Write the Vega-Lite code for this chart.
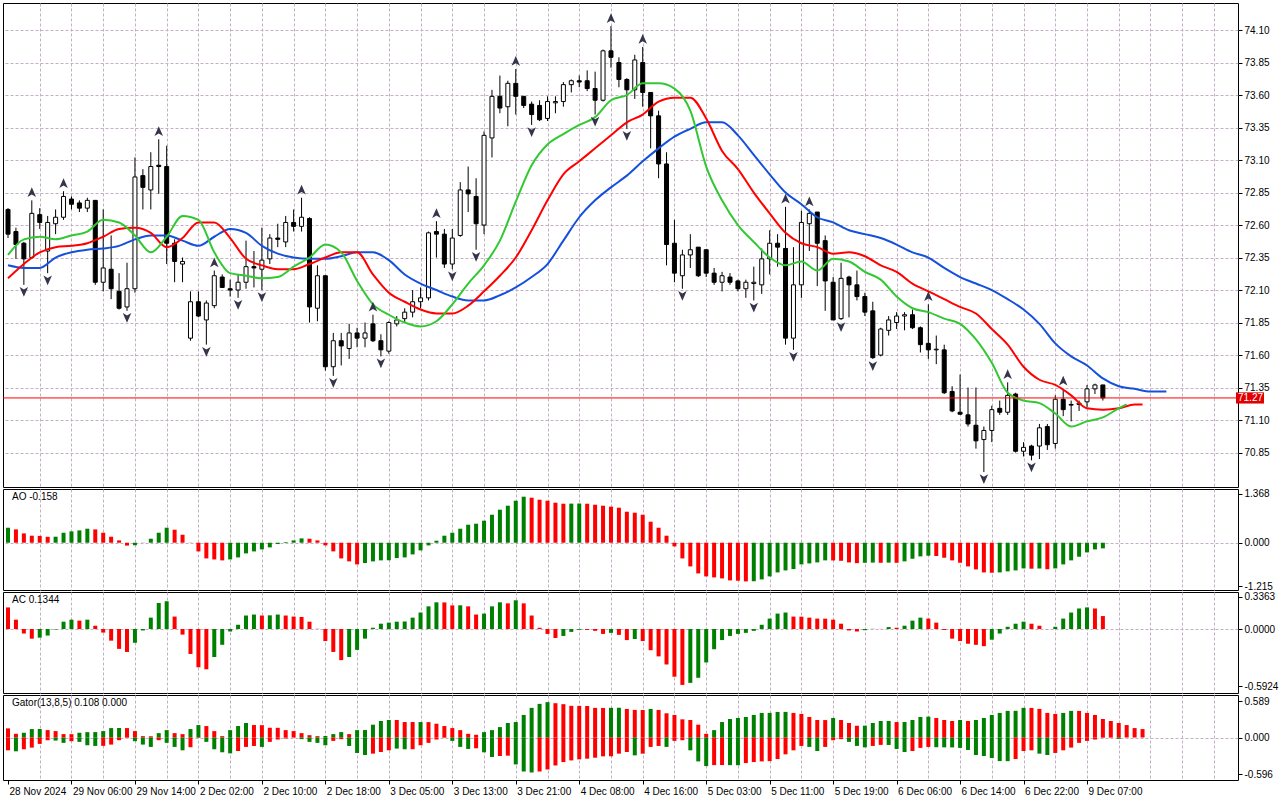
{
  "$schema": "https://vega.github.io/schema/vega-lite/v6.json",
  "background": "white",
  "padding": {"left": 2, "top": 2, "right": 0, "bottom": 0},
  "spacing": 2,
  "bounds": "flush",
  "config": {
    "font": "Liberation Sans",
    "view": {"stroke": "black", "strokeWidth": 1, "fill": "white"},
    "axis": {
      "labelFont": "Liberation Sans", "labelFontSize": 10, "labelColor": "black",
      "tickColor": "black", "tickWidth": 1,
      "gridColor": "#c4b0c4", "gridDash": [3, 2], "gridWidth": 1,
      "labelFlush": false, "labelOverlap": false, "domain": false
    }
  },
  "datasets": {
    "bars": [
      {"k":0,"o":72.72,"h":72.73,"l":72.50,"c":72.53,"ao":0.419,"aod":"u","ac":0.224,"acd":"d"},
      {"k":1,"o":72.55,"h":72.58,"l":72.34,"c":72.45,"ao":0.372,"aod":"d","ac":0.097,"acd":"d"},
      {"k":2,"o":72.46,"h":72.47,"l":72.14,"c":72.34,"ao":0.261,"aod":"d","ac":-0.047,"acd":"d"},
      {"k":3,"o":72.35,"h":72.79,"l":72.34,"c":72.69,"ao":0.196,"aod":"d","ac":-0.1,"acd":"d"},
      {"k":4,"o":72.68,"h":72.73,"l":72.57,"c":72.62,"ao":0.19,"aod":"d","ac":-0.09,"acd":"u"},
      {"k":5,"o":72.40,"h":72.67,"l":72.23,"c":72.62,"ao":0.165,"aod":"d","ac":-0.068,"acd":"u"},
      {"k":6,"o":72.61,"h":72.72,"l":72.53,"c":72.66,"ao":0.168,"aod":"u","ac":-0.005,"acd":"u"},
      {"k":7,"o":72.66,"h":72.86,"l":72.64,"c":72.82,"ao":0.279,"aod":"u","ac":0.076,"acd":"u"},
      {"k":8,"o":72.80,"h":72.82,"l":72.72,"c":72.76,"ao":0.317,"aod":"u","ac":0.097,"acd":"u"},
      {"k":9,"o":72.77,"h":72.79,"l":72.70,"c":72.73,"ao":0.344,"aod":"u","ac":0.087,"acd":"d"},
      {"k":10,"o":72.73,"h":72.81,"l":72.70,"c":72.79,"ao":0.391,"aod":"u","ac":0.097,"acd":"u"},
      {"k":11,"o":72.79,"h":72.79,"l":72.14,"c":72.16,"ao":0.372,"aod":"d","ac":0.034,"acd":"d"},
      {"k":12,"o":72.16,"h":72.72,"l":72.09,"c":72.27,"ao":0.279,"aod":"d","ac":-0.037,"acd":"d"},
      {"k":13,"o":72.26,"h":72.52,"l":72.03,"c":72.11,"ao":0.168,"aod":"d","ac":-0.121,"acd":"d"},
      {"k":14,"o":72.09,"h":72.23,"l":71.95,"c":71.96,"ao":0.065,"aod":"d","ac":-0.206,"acd":"d"},
      {"k":15,"o":71.97,"h":72.31,"l":71.94,"c":72.11,"ao":-0.08,"aod":"d","ac":-0.238,"acd":"d"},
      {"k":16,"o":72.11,"h":73.12,"l":72.08,"c":72.97,"ao":-0.07,"aod":"u","ac":-0.143,"acd":"u"},
      {"k":17,"o":72.98,"h":73.03,"l":72.72,"c":72.89,"ao":0.005,"aod":"u","ac":-0.015,"acd":"u"},
      {"k":18,"o":72.87,"h":73.16,"l":72.72,"c":73.05,"ao":0.112,"aod":"u","ac":0.118,"acd":"u"},
      {"k":19,"o":73.06,"h":73.26,"l":72.84,"c":73.05,"ao":0.279,"aod":"u","ac":0.27,"acd":"u"},
      {"k":20,"o":73.05,"h":73.21,"l":72.30,"c":72.46,"ao":0.419,"aod":"u","ac":0.288,"acd":"u"},
      {"k":21,"o":72.46,"h":72.49,"l":72.16,"c":72.32,"ao":0.363,"aod":"d","ac":0.129,"acd":"d"},
      {"k":22,"o":72.30,"h":72.35,"l":72.16,"c":72.32,"ao":0.223,"aod":"d","ac":-0.058,"acd":"d"},
      {"k":23,"o":71.73,"h":72.09,"l":71.71,"c":72.01,"ao":0.005,"aod":"d","ac":-0.259,"acd":"d"},
      {"k":24,"o":72.01,"h":72.09,"l":71.89,"c":71.90,"ao":-0.242,"aod":"d","ac":-0.397,"acd":"d"},
      {"k":25,"o":71.87,"h":72.02,"l":71.68,"c":72.00,"ao":-0.438,"aod":"d","ac":-0.418,"acd":"d"},
      {"k":26,"o":71.98,"h":72.25,"l":71.96,"c":72.21,"ao":-0.466,"aod":"d","ac":-0.291,"acd":"u"},
      {"k":27,"o":72.20,"h":72.22,"l":72.12,"c":72.12,"ao":-0.493,"aod":"d","ac":-0.164,"acd":"u"},
      {"k":28,"o":72.11,"h":72.18,"l":72.05,"c":72.10,"ao":-0.466,"aod":"u","ac":-0.026,"acd":"u"},
      {"k":29,"o":72.10,"h":72.22,"l":72.04,"c":72.16,"ao":-0.41,"aod":"u","ac":0.044,"acd":"u"},
      {"k":30,"o":72.16,"h":72.48,"l":72.11,"c":72.28,"ao":-0.298,"aod":"u","ac":0.14,"acd":"u"},
      {"k":31,"o":72.28,"h":72.40,"l":72.12,"c":72.27,"ao":-0.242,"aod":"u","ac":0.15,"acd":"u"},
      {"k":32,"o":72.26,"h":72.58,"l":72.10,"c":72.33,"ao":-0.186,"aod":"u","ac":0.14,"acd":"d"},
      {"k":33,"o":72.34,"h":72.53,"l":72.30,"c":72.50,"ao":-0.13,"aod":"u","ac":0.142,"acd":"u"},
      {"k":34,"o":72.50,"h":72.61,"l":72.43,"c":72.49,"ao":-0.037,"aod":"u","ac":0.15,"acd":"u"},
      {"k":35,"o":72.47,"h":72.67,"l":72.43,"c":72.62,"ao":0.019,"aod":"u","ac":0.14,"acd":"d"},
      {"k":36,"o":72.62,"h":72.72,"l":72.55,"c":72.59,"ao":0.065,"aod":"u","ac":0.129,"acd":"d"},
      {"k":37,"o":72.59,"h":72.81,"l":72.55,"c":72.66,"ao":0.121,"aod":"u","ac":0.125,"acd":"d"},
      {"k":38,"o":72.65,"h":72.66,"l":71.85,"c":71.97,"ao":0.112,"aod":"d","ac":0.076,"acd":"d"},
      {"k":39,"o":71.96,"h":72.29,"l":71.86,"c":72.21,"ao":0.065,"aod":"d","ac":0.002,"acd":"d"},
      {"k":40,"o":72.21,"h":72.21,"l":71.48,"c":71.51,"ao":-0.074,"aod":"d","ac":-0.125,"acd":"d"},
      {"k":41,"o":71.51,"h":71.77,"l":71.44,"c":71.71,"ao":-0.242,"aod":"d","ac":-0.238,"acd":"d"},
      {"k":42,"o":71.71,"h":71.77,"l":71.52,"c":71.67,"ao":-0.438,"aod":"d","ac":-0.323,"acd":"d"},
      {"k":43,"o":71.65,"h":71.84,"l":71.57,"c":71.77,"ao":-0.521,"aod":"d","ac":-0.291,"acd":"u"},
      {"k":44,"o":71.77,"h":71.81,"l":71.66,"c":71.73,"ao":-0.605,"aod":"d","ac":-0.217,"acd":"u"},
      {"k":45,"o":71.73,"h":71.85,"l":71.66,"c":71.77,"ao":-0.568,"aod":"u","ac":-0.1,"acd":"u"},
      {"k":46,"o":71.84,"h":71.91,"l":71.70,"c":71.71,"ao":-0.521,"aod":"u","ac":0.013,"acd":"u"},
      {"k":47,"o":71.71,"h":71.76,"l":71.59,"c":71.64,"ao":-0.493,"aod":"u","ac":0.055,"acd":"u"},
      {"k":48,"o":71.63,"h":71.86,"l":71.61,"c":71.85,"ao":-0.49,"aod":"u","ac":0.066,"acd":"u"},
      {"k":49,"o":71.84,"h":71.90,"l":71.82,"c":71.87,"ao":-0.428,"aod":"u","ac":0.076,"acd":"u"},
      {"k":50,"o":71.88,"h":71.96,"l":71.85,"c":71.93,"ao":-0.41,"aod":"u","ac":0.078,"acd":"u"},
      {"k":51,"o":71.93,"h":72.10,"l":71.89,"c":72.01,"ao":-0.326,"aod":"u","ac":0.118,"acd":"u"},
      {"k":52,"o":72.01,"h":72.12,"l":71.96,"c":72.04,"ao":-0.214,"aod":"u","ac":0.171,"acd":"u"},
      {"k":53,"o":72.04,"h":72.55,"l":72.02,"c":72.54,"ao":-0.074,"aod":"u","ac":0.235,"acd":"u"},
      {"k":54,"o":72.55,"h":72.63,"l":72.35,"c":72.53,"ao":0.056,"aod":"u","ac":0.277,"acd":"u"},
      {"k":55,"o":72.53,"h":72.57,"l":72.27,"c":72.30,"ao":0.196,"aod":"u","ac":0.276,"acd":"d"},
      {"k":56,"o":72.30,"h":72.57,"l":72.26,"c":72.50,"ao":0.279,"aod":"u","ac":0.245,"acd":"d"},
      {"k":57,"o":72.52,"h":72.93,"l":72.51,"c":72.87,"ao":0.391,"aod":"u","ac":0.246,"acd":"u"},
      {"k":58,"o":72.87,"h":73.05,"l":72.70,"c":72.84,"ao":0.503,"aod":"u","ac":0.235,"acd":"d"},
      {"k":59,"o":72.82,"h":72.96,"l":72.41,"c":72.61,"ao":0.531,"aod":"u","ac":0.15,"acd":"d"},
      {"k":60,"o":72.60,"h":73.32,"l":72.53,"c":73.29,"ao":0.615,"aod":"u","ac":0.16,"acd":"u"},
      {"k":61,"o":73.27,"h":73.64,"l":73.12,"c":73.59,"ao":0.782,"aod":"u","ac":0.235,"acd":"u"},
      {"k":62,"o":73.59,"h":73.75,"l":73.46,"c":73.50,"ao":0.922,"aod":"u","ac":0.277,"acd":"u"},
      {"k":63,"o":73.51,"h":73.71,"l":73.36,"c":73.69,"ao":1.034,"aod":"u","ac":0.266,"acd":"d"},
      {"k":64,"o":73.69,"h":73.80,"l":73.45,"c":73.59,"ao":1.173,"aod":"u","ac":0.298,"acd":"u"},
      {"k":65,"o":73.59,"h":73.59,"l":73.50,"c":73.52,"ao":1.285,"aod":"u","ac":0.266,"acd":"d"},
      {"k":66,"o":73.53,"h":73.55,"l":73.37,"c":73.45,"ao":1.257,"aod":"d","ac":0.14,"acd":"d"},
      {"k":67,"o":73.52,"h":73.56,"l":73.40,"c":73.41,"ao":1.201,"aod":"d","ac":0.013,"acd":"d"},
      {"k":68,"o":73.42,"h":73.59,"l":73.40,"c":73.55,"ao":1.173,"aod":"d","ac":-0.051,"acd":"d"},
      {"k":69,"o":73.54,"h":73.59,"l":73.46,"c":73.55,"ao":1.117,"aod":"d","ac":-0.093,"acd":"d"},
      {"k":70,"o":73.55,"h":73.70,"l":73.51,"c":73.68,"ao":1.089,"aod":"d","ac":-0.072,"acd":"u"},
      {"k":71,"o":73.68,"h":73.72,"l":73.62,"c":73.71,"ao":1.092,"aod":"u","ac":-0.03,"acd":"u"},
      {"k":72,"o":73.71,"h":73.75,"l":73.66,"c":73.70,"ao":1.095,"aod":"u","ac":-0.008,"acd":"u"},
      {"k":73,"o":73.71,"h":73.79,"l":73.63,"c":73.65,"ao":1.089,"aod":"d","ac":-0.01,"acd":"d"},
      {"k":74,"o":73.65,"h":73.78,"l":73.45,"c":73.56,"ao":1.061,"aod":"d","ac":-0.019,"acd":"d"},
      {"k":75,"o":73.56,"h":73.95,"l":73.55,"c":73.94,"ao":1.034,"aod":"d","ac":-0.051,"acd":"d"},
      {"k":76,"o":73.94,"h":74.13,"l":73.81,"c":73.89,"ao":1.006,"aod":"d","ac":-0.04,"acd":"u"},
      {"k":77,"o":73.85,"h":73.89,"l":73.66,"c":73.72,"ao":0.978,"aod":"d","ac":-0.061,"acd":"d"},
      {"k":78,"o":73.72,"h":73.73,"l":73.34,"c":73.64,"ao":0.866,"aod":"d","ac":-0.115,"acd":"d"},
      {"k":79,"o":73.64,"h":73.91,"l":73.57,"c":73.87,"ao":0.838,"aod":"d","ac":-0.104,"acd":"u"},
      {"k":80,"o":73.85,"h":73.97,"l":73.51,"c":73.62,"ao":0.782,"aod":"d","ac":-0.125,"acd":"d"},
      {"k":81,"o":73.62,"h":73.62,"l":73.19,"c":73.44,"ao":0.587,"aod":"d","ac":-0.22,"acd":"d"},
      {"k":82,"o":73.44,"h":73.48,"l":72.96,"c":73.07,"ao":0.419,"aod":"d","ac":-0.284,"acd":"d"},
      {"k":83,"o":73.07,"h":73.16,"l":72.29,"c":72.45,"ao":0.196,"aod":"d","ac":-0.368,"acd":"d"},
      {"k":84,"o":72.46,"h":72.64,"l":72.16,"c":72.23,"ao":-0.102,"aod":"d","ac":-0.495,"acd":"d"},
      {"k":85,"o":72.21,"h":72.41,"l":72.11,"c":72.37,"ao":-0.438,"aod":"d","ac":-0.58,"acd":"d"},
      {"k":86,"o":72.37,"h":72.53,"l":72.27,"c":72.41,"ao":-0.661,"aod":"d","ac":-0.559,"acd":"u"},
      {"k":87,"o":72.43,"h":72.43,"l":72.20,"c":72.21,"ao":-0.857,"aod":"d","ac":-0.506,"acd":"u"},
      {"k":88,"o":72.41,"h":72.41,"l":72.20,"c":72.23,"ao":-0.94,"aod":"d","ac":-0.347,"acd":"u"},
      {"k":89,"o":72.23,"h":72.27,"l":72.14,"c":72.16,"ao":-0.968,"aod":"d","ac":-0.21,"acd":"u"},
      {"k":90,"o":72.16,"h":72.24,"l":72.09,"c":72.21,"ao":-0.996,"aod":"d","ac":-0.115,"acd":"u"},
      {"k":91,"o":72.20,"h":72.23,"l":72.14,"c":72.16,"ao":-1.052,"aod":"d","ac":-0.072,"acd":"u"},
      {"k":92,"o":72.17,"h":72.18,"l":72.09,"c":72.11,"ao":-1.061,"aod":"d","ac":-0.051,"acd":"u"},
      {"k":93,"o":72.11,"h":72.18,"l":72.04,"c":72.16,"ao":-1.08,"aod":"d","ac":-0.04,"acd":"u"},
      {"k":94,"o":72.15,"h":72.28,"l":72.02,"c":72.16,"ao":-1.075,"aod":"u","ac":-0.019,"acd":"u"},
      {"k":95,"o":72.14,"h":72.42,"l":72.07,"c":72.34,"ao":-1.024,"aod":"u","ac":0.044,"acd":"u"},
      {"k":96,"o":72.34,"h":72.56,"l":72.22,"c":72.46,"ao":-0.94,"aod":"u","ac":0.108,"acd":"u"},
      {"k":97,"o":72.46,"h":72.53,"l":72.28,"c":72.43,"ao":-0.829,"aod":"u","ac":0.16,"acd":"u"},
      {"k":98,"o":72.42,"h":72.74,"l":71.68,"c":71.73,"ao":-0.773,"aod":"u","ac":0.171,"acd":"u"},
      {"k":99,"o":71.73,"h":72.43,"l":71.64,"c":72.14,"ao":-0.736,"aod":"u","ac":0.129,"acd":"d"},
      {"k":100,"o":72.14,"h":72.71,"l":72.04,"c":72.62,"ao":-0.605,"aod":"u","ac":0.128,"acd":"d"},
      {"k":101,"o":72.61,"h":72.72,"l":72.40,"c":72.69,"ao":-0.577,"aod":"u","ac":0.118,"acd":"d"},
      {"k":102,"o":72.70,"h":72.70,"l":72.13,"c":72.46,"ao":-0.549,"aod":"u","ac":0.108,"acd":"d"},
      {"k":103,"o":72.48,"h":72.52,"l":71.94,"c":72.17,"ao":-0.493,"aod":"u","ac":0.107,"acd":"d"},
      {"k":104,"o":72.16,"h":72.20,"l":71.87,"c":71.87,"ao":-0.495,"aod":"d","ac":0.097,"acd":"d"},
      {"k":105,"o":71.88,"h":72.31,"l":71.87,"c":72.19,"ao":-0.505,"aod":"d","ac":0.055,"acd":"d"},
      {"k":106,"o":72.20,"h":72.21,"l":71.89,"c":72.14,"ao":-0.55,"aod":"d","ac":-0.015,"acd":"d"},
      {"k":107,"o":72.14,"h":72.25,"l":72.02,"c":72.05,"ao":-0.57,"aod":"d","ac":-0.026,"acd":"d"},
      {"k":108,"o":72.05,"h":72.08,"l":71.90,"c":71.93,"ao":-0.56,"aod":"u","ac":-0.012,"acd":"u"},
      {"k":109,"o":71.94,"h":72.01,"l":71.57,"c":71.58,"ao":-0.555,"aod":"u","ac":0.002,"acd":"u"},
      {"k":110,"o":71.60,"h":71.81,"l":71.59,"c":71.80,"ao":-0.56,"aod":"d","ac":0.001,"acd":"d"},
      {"k":111,"o":71.79,"h":71.90,"l":71.75,"c":71.87,"ao":-0.555,"aod":"u","ac":0.02,"acd":"u"},
      {"k":112,"o":71.85,"h":71.93,"l":71.80,"c":71.90,"ao":-0.56,"aod":"d","ac":0.013,"acd":"d"},
      {"k":113,"o":71.90,"h":71.93,"l":71.79,"c":71.91,"ao":-0.52,"aod":"u","ac":0.034,"acd":"u"},
      {"k":114,"o":71.91,"h":71.95,"l":71.80,"c":71.81,"ao":-0.447,"aod":"u","ac":0.087,"acd":"u"},
      {"k":115,"o":71.81,"h":71.82,"l":71.62,"c":71.68,"ao":-0.382,"aod":"u","ac":0.118,"acd":"u"},
      {"k":116,"o":71.69,"h":71.99,"l":71.57,"c":71.64,"ao":-0.363,"aod":"u","ac":0.108,"acd":"d"},
      {"k":117,"o":71.64,"h":71.75,"l":71.53,"c":71.645,"ao":-0.37,"aod":"d","ac":0.066,"acd":"d"},
      {"k":118,"o":71.64,"h":71.68,"l":71.30,"c":71.31,"ao":-0.419,"aod":"d","ac":-0.01,"acd":"d"},
      {"k":119,"o":71.32,"h":71.36,"l":71.16,"c":71.17,"ao":-0.493,"aod":"d","ac":-0.1,"acd":"d"},
      {"k":120,"o":71.16,"h":71.45,"l":71.14,"c":71.145,"ao":-0.559,"aod":"d","ac":-0.125,"acd":"d"},
      {"k":121,"o":71.14,"h":71.35,"l":71.05,"c":71.07,"ao":-0.661,"aod":"d","ac":-0.153,"acd":"d"},
      {"k":122,"o":71.06,"h":71.35,"l":70.88,"c":70.94,"ao":-0.745,"aod":"d","ac":-0.164,"acd":"d"},
      {"k":123,"o":70.95,"h":71.05,"l":70.70,"c":71.02,"ao":-0.829,"aod":"d","ac":-0.178,"acd":"d"},
      {"k":124,"o":71.02,"h":71.21,"l":70.93,"c":71.18,"ao":-0.838,"aod":"d","ac":-0.111,"acd":"u"},
      {"k":125,"o":71.19,"h":71.25,"l":71.14,"c":71.16,"ao":-0.829,"aod":"u","ac":-0.047,"acd":"u"},
      {"k":126,"o":71.16,"h":71.39,"l":71.14,"c":71.29,"ao":-0.8,"aod":"u","ac":0.023,"acd":"u"},
      {"k":127,"o":71.30,"h":71.31,"l":70.85,"c":70.86,"ao":-0.773,"aod":"u","ac":0.055,"acd":"u"},
      {"k":128,"o":70.86,"h":70.93,"l":70.82,"c":70.89,"ao":-0.717,"aod":"u","ac":0.076,"acd":"u"},
      {"k":129,"o":70.90,"h":70.91,"l":70.79,"c":70.83,"ao":-0.725,"aod":"d","ac":0.055,"acd":"d"},
      {"k":130,"o":70.90,"h":71.07,"l":70.80,"c":71.04,"ao":-0.72,"aod":"u","ac":0.034,"acd":"d"},
      {"k":131,"o":71.05,"h":71.07,"l":70.87,"c":70.91,"ao":-0.74,"aod":"d","ac":-0.001,"acd":"d"},
      {"k":132,"o":70.92,"h":71.29,"l":70.88,"c":71.26,"ao":-0.717,"aod":"u","ac":0.023,"acd":"u"},
      {"k":133,"o":71.26,"h":71.34,"l":71.13,"c":71.18,"ao":-0.605,"aod":"u","ac":0.108,"acd":"u"},
      {"k":134,"o":71.22,"h":71.25,"l":71.09,"c":71.215,"ao":-0.493,"aod":"u","ac":0.171,"acd":"u"},
      {"k":135,"o":71.22,"h":71.25,"l":71.17,"c":71.23,"ao":-0.391,"aod":"u","ac":0.213,"acd":"u"},
      {"k":136,"o":71.24,"h":71.37,"l":71.20,"c":71.34,"ao":-0.27,"aod":"u","ac":0.224,"acd":"u"},
      {"k":137,"o":71.34,"h":71.38,"l":71.30,"c":71.37,"ao":-0.186,"aod":"u","ac":0.213,"acd":"d"},
      {"k":138,"o":71.37,"h":71.37,"l":71.25,"c":71.27,"ao":-0.158,"aod":"u","ac":0.1344,"acd":"d"}
    ],
    "ally": [
      {"k":0,"jaw":72.29,"teeth":72.19,"lips":72.37},
      {"k":2,"jaw":72.27,"teeth":72.30,"lips":72.49},
      {"k":4,"jaw":72.27,"teeth":72.39,"lips":72.51},
      {"k":6,"jaw":72.35,"teeth":72.43,"lips":72.49},
      {"k":8,"jaw":72.39,"teeth":72.44,"lips":72.52},
      {"k":10,"jaw":72.41,"teeth":72.46,"lips":72.55},
      {"k":12,"jaw":72.42,"teeth":72.51,"lips":72.64},
      {"k":14,"jaw":72.44,"teeth":72.57,"lips":72.62},
      {"k":16,"jaw":72.49,"teeth":72.58,"lips":72.52},
      {"k":18,"jaw":72.52,"teeth":72.54,"lips":72.39},
      {"k":20,"jaw":72.52,"teeth":72.43,"lips":72.51},
      {"k":22,"jaw":72.48,"teeth":72.50,"lips":72.67},
      {"k":24,"jaw":72.44,"teeth":72.62,"lips":72.64},
      {"k":26,"jaw":72.51,"teeth":72.62,"lips":72.39},
      {"k":28,"jaw":72.57,"teeth":72.50,"lips":72.23},
      {"k":30,"jaw":72.54,"teeth":72.34,"lips":72.21},
      {"k":32,"jaw":72.44,"teeth":72.29,"lips":72.19},
      {"k":34,"jaw":72.38,"teeth":72.26,"lips":72.20},
      {"k":36,"jaw":72.35,"teeth":72.26,"lips":72.28},
      {"k":38,"jaw":72.34,"teeth":72.30,"lips":72.35},
      {"k":40,"jaw":72.34,"teeth":72.35,"lips":72.45},
      {"k":42,"jaw":72.36,"teeth":72.39,"lips":72.39},
      {"k":44,"jaw":72.39,"teeth":72.39,"lips":72.17},
      {"k":46,"jaw":72.39,"teeth":72.22,"lips":71.99},
      {"k":48,"jaw":72.33,"teeth":72.08,"lips":71.91},
      {"k":50,"jaw":72.22,"teeth":72.01,"lips":71.85},
      {"k":52,"jaw":72.15,"teeth":71.95,"lips":71.82},
      {"k":54,"jaw":72.10,"teeth":71.92,"lips":71.86},
      {"k":56,"jaw":72.05,"teeth":71.92,"lips":71.99},
      {"k":58,"jaw":72.02,"teeth":71.98,"lips":72.15},
      {"k":60,"jaw":72.02,"teeth":72.09,"lips":72.29},
      {"k":62,"jaw":72.06,"teeth":72.21,"lips":72.48},
      {"k":64,"jaw":72.12,"teeth":72.35,"lips":72.78},
      {"k":66,"jaw":72.20,"teeth":72.56,"lips":73.06},
      {"k":68,"jaw":72.30,"teeth":72.79,"lips":73.22},
      {"k":70,"jaw":72.48,"teeth":72.99,"lips":73.30},
      {"k":72,"jaw":72.66,"teeth":73.09,"lips":73.37},
      {"k":74,"jaw":72.79,"teeth":73.19,"lips":73.43},
      {"k":76,"jaw":72.89,"teeth":73.29,"lips":73.56},
      {"k":78,"jaw":72.98,"teeth":73.39,"lips":73.60},
      {"k":80,"jaw":73.09,"teeth":73.45,"lips":73.69},
      {"k":82,"jaw":73.19,"teeth":73.55,"lips":73.69},
      {"k":84,"jaw":73.28,"teeth":73.58,"lips":73.65},
      {"k":86,"jaw":73.34,"teeth":73.58,"lips":73.48},
      {"k":88,"jaw":73.39,"teeth":73.42,"lips":73.05},
      {"k":90,"jaw":73.39,"teeth":73.17,"lips":72.79},
      {"k":92,"jaw":73.29,"teeth":73.03,"lips":72.60},
      {"k":94,"jaw":73.14,"teeth":72.85,"lips":72.47},
      {"k":96,"jaw":72.99,"teeth":72.69,"lips":72.35},
      {"k":98,"jaw":72.85,"teeth":72.54,"lips":72.29},
      {"k":100,"jaw":72.76,"teeth":72.46,"lips":72.32},
      {"k":102,"jaw":72.66,"teeth":72.43,"lips":72.25},
      {"k":104,"jaw":72.62,"teeth":72.38,"lips":72.34},
      {"k":106,"jaw":72.56,"teeth":72.39,"lips":72.32},
      {"k":108,"jaw":72.53,"teeth":72.36,"lips":72.24},
      {"k":110,"jaw":72.50,"teeth":72.29,"lips":72.18},
      {"k":112,"jaw":72.45,"teeth":72.24,"lips":72.05},
      {"k":114,"jaw":72.39,"teeth":72.15,"lips":71.96},
      {"k":116,"jaw":72.35,"teeth":72.09,"lips":71.93},
      {"k":118,"jaw":72.27,"teeth":72.03,"lips":71.88},
      {"k":120,"jaw":72.20,"teeth":71.97,"lips":71.84},
      {"k":122,"jaw":72.15,"teeth":71.92,"lips":71.72},
      {"k":124,"jaw":72.10,"teeth":71.80,"lips":71.54},
      {"k":126,"jaw":72.03,"teeth":71.68,"lips":71.31},
      {"k":128,"jaw":71.95,"teeth":71.51,"lips":71.25},
      {"k":130,"jaw":71.84,"teeth":71.41,"lips":71.23},
      {"k":132,"jaw":71.69,"teeth":71.37,"lips":71.15},
      {"k":134,"jaw":71.59,"teeth":71.29,"lips":71.05},
      {"k":136,"jaw":71.52,"teeth":71.19,"lips":71.09},
      {"k":138,"jaw":71.42,"teeth":71.18,"lips":71.12},
      {"k":140,"jaw":71.36,"teeth":71.19,"lips":71.19},
      {"k":141,"lips":71.22},
      {"k":142,"jaw":71.34,"teeth":71.22},
      {"k":143,"teeth":71.22},
      {"k":144,"jaw":71.32},
      {"k":146,"jaw":71.32}
    ],
    "fr": [
      {"k":3,"p":72.79,"t":"up"},{"k":7,"p":72.86,"t":"up"},{"k":19,"p":73.26,"t":"up"},
      {"k":26,"p":72.25,"t":"up"},{"k":37,"p":72.81,"t":"up"},{"k":46,"p":71.91,"t":"up"},
      {"k":54,"p":72.63,"t":"up"},{"k":64,"p":73.80,"t":"up"},{"k":76,"p":74.13,"t":"up"},
      {"k":80,"p":73.97,"t":"up"},{"k":98,"p":72.74,"t":"up"},{"k":101,"p":72.72,"t":"up"},
      {"k":116,"p":71.99,"t":"up"},{"k":126,"p":71.39,"t":"up"},{"k":133,"p":71.34,"t":"up"},
      {"k":2,"p":72.14,"t":"dn"},{"k":5,"p":72.23,"t":"dn"},{"k":15,"p":71.94,"t":"dn"},
      {"k":25,"p":71.68,"t":"dn"},{"k":29,"p":72.04,"t":"dn"},{"k":32,"p":72.10,"t":"dn"},
      {"k":41,"p":71.44,"t":"dn"},{"k":47,"p":71.59,"t":"dn"},{"k":56,"p":72.26,"t":"dn"},
      {"k":59,"p":72.41,"t":"dn"},{"k":66,"p":73.37,"t":"dn"},{"k":74,"p":73.45,"t":"dn"},
      {"k":78,"p":73.34,"t":"dn"},{"k":85,"p":72.11,"t":"dn"},{"k":94,"p":72.02,"t":"dn"},
      {"k":99,"p":71.64,"t":"dn"},{"k":105,"p":71.87,"t":"dn"},{"k":109,"p":71.57,"t":"dn"},
      {"k":123,"p":70.70,"t":"dn"},{"k":129,"p":70.79,"t":"dn"}
    ],
    "gator": [
      {"k":0,"u":0.148,"ud":"d","w":-0.208,"wd":"d"},
      {"k":1,"u":0.06,"ud":"d","w":-0.224,"wd":"u"},
      {"k":2,"u":0.077,"ud":"u","w":-0.191,"wd":"d"},
      {"k":3,"u":0.137,"ud":"u","w":-0.164,"wd":"d"},
      {"k":4,"u":0.138,"ud":"u","w":-0.104,"wd":"d"},
      {"k":5,"u":0.12,"ud":"d","w":-0.044,"wd":"d"},
      {"k":6,"u":0.104,"ud":"d","w":-0.05,"wd":"u"},
      {"k":7,"u":0.055,"ud":"d","w":-0.087,"wd":"u"},
      {"k":8,"u":0.054,"ud":"d","w":-0.06,"wd":"d"},
      {"k":9,"u":0.077,"ud":"u","w":-0.071,"wd":"u"},
      {"k":10,"u":0.087,"ud":"u","w":-0.126,"wd":"u"},
      {"k":11,"u":0.088,"ud":"u","w":-0.137,"wd":"u"},
      {"k":12,"u":0.104,"ud":"u","w":-0.136,"wd":"d"},
      {"k":13,"u":0.153,"ud":"u","w":-0.115,"wd":"d"},
      {"k":14,"u":0.154,"ud":"u","w":-0.044,"wd":"d"},
      {"k":15,"u":0.153,"ud":"d","w":-0.005,"wd":"d"},
      {"k":16,"u":0.104,"ud":"d","w":-0.06,"wd":"u"},
      {"k":17,"u":0.022,"ud":"d","w":-0.115,"wd":"u"},
      {"k":18,"u":0.02,"ud":"d","w":-0.153,"wd":"u"},
      {"k":19,"u":0.071,"ud":"u","w":-0.044,"wd":"d"},
      {"k":20,"u":0.12,"ud":"u","w":-0.087,"wd":"u"},
      {"k":21,"u":0.071,"ud":"d","w":-0.153,"wd":"u"},
      {"k":22,"u":0.055,"ud":"d","w":-0.208,"wd":"u"},
      {"k":23,"u":0.137,"ud":"u","w":-0.158,"wd":"d"},
      {"k":24,"u":0.202,"ud":"u","w":-0.005,"wd":"d"},
      {"k":25,"u":0.186,"ud":"d","w":-0.071,"wd":"u"},
      {"k":26,"u":0.104,"ud":"d","w":-0.191,"wd":"u"},
      {"k":27,"u":0.022,"ud":"d","w":-0.24,"wd":"u"},
      {"k":28,"u":0.12,"ud":"u","w":-0.257,"wd":"u"},
      {"k":29,"u":0.186,"ud":"u","w":-0.219,"wd":"d"},
      {"k":30,"u":0.235,"ud":"u","w":-0.153,"wd":"d"},
      {"k":31,"u":0.202,"ud":"d","w":-0.137,"wd":"d"},
      {"k":32,"u":0.2,"ud":"d","w":-0.153,"wd":"u"},
      {"k":33,"u":0.158,"ud":"d","w":-0.071,"wd":"d"},
      {"k":34,"u":0.157,"ud":"d","w":-0.033,"wd":"d"},
      {"k":35,"u":0.12,"ud":"d","w":-0.016,"wd":"d"},
      {"k":36,"u":0.104,"ud":"d","w":-0.002,"wd":"d"},
      {"k":37,"u":0.071,"ud":"d","w":-0.027,"wd":"u"},
      {"k":38,"u":0.038,"ud":"d","w":-0.071,"wd":"u"},
      {"k":39,"u":0.022,"ud":"d","w":-0.087,"wd":"u"},
      {"k":40,"u":0.025,"ud":"u","w":-0.126,"wd":"u"},
      {"k":41,"u":0.055,"ud":"u","w":-0.055,"wd":"d"},
      {"k":42,"u":0.088,"ud":"u","w":-0.027,"wd":"d"},
      {"k":43,"u":0.055,"ud":"d","w":-0.137,"wd":"u"},
      {"k":44,"u":0.12,"ud":"u","w":-0.251,"wd":"u"},
      {"k":45,"u":0.121,"ud":"u","w":-0.284,"wd":"u"},
      {"k":46,"u":0.208,"ud":"u","w":-0.262,"wd":"d"},
      {"k":47,"u":0.268,"ud":"u","w":-0.235,"wd":"d"},
      {"k":48,"u":0.284,"ud":"u","w":-0.208,"wd":"d"},
      {"k":49,"u":0.284,"ud":"d","w":-0.18,"wd":"u"},
      {"k":50,"u":0.251,"ud":"d","w":-0.191,"wd":"u"},
      {"k":51,"u":0.251,"ud":"d","w":-0.19,"wd":"d"},
      {"k":52,"u":0.251,"ud":"u","w":-0.126,"wd":"d"},
      {"k":53,"u":0.25,"ud":"d","w":-0.087,"wd":"d"},
      {"k":54,"u":0.224,"ud":"d","w":-0.033,"wd":"d"},
      {"k":55,"u":0.186,"ud":"d","w":-0.005,"wd":"d"},
      {"k":56,"u":0.153,"ud":"d","w":-0.055,"wd":"u"},
      {"k":57,"u":0.12,"ud":"d","w":-0.153,"wd":"u"},
      {"k":58,"u":0.06,"ud":"d","w":-0.186,"wd":"u"},
      {"k":59,"u":0.044,"ud":"d","w":-0.175,"wd":"d"},
      {"k":60,"u":0.087,"ud":"u","w":-0.24,"wd":"u"},
      {"k":61,"u":0.12,"ud":"u","w":-0.317,"wd":"u"},
      {"k":62,"u":0.169,"ud":"u","w":-0.3,"wd":"d"},
      {"k":63,"u":0.235,"ud":"u","w":-0.295,"wd":"d"},
      {"k":64,"u":0.251,"ud":"u","w":-0.437,"wd":"u"},
      {"k":65,"u":0.366,"ud":"u","w":-0.552,"wd":"u"},
      {"k":66,"u":0.481,"ud":"u","w":-0.568,"wd":"u"},
      {"k":67,"u":0.546,"ud":"u","w":-0.552,"wd":"d"},
      {"k":68,"u":0.574,"ud":"u","w":-0.519,"wd":"d"},
      {"k":69,"u":0.557,"ud":"d","w":-0.454,"wd":"d"},
      {"k":70,"u":0.541,"ud":"d","w":-0.399,"wd":"d"},
      {"k":71,"u":0.514,"ud":"d","w":-0.372,"wd":"d"},
      {"k":72,"u":0.513,"ud":"d","w":-0.355,"wd":"d"},
      {"k":73,"u":0.512,"ud":"d","w":-0.344,"wd":"d"},
      {"k":74,"u":0.481,"ud":"d","w":-0.328,"wd":"d"},
      {"k":75,"u":0.48,"ud":"d","w":-0.306,"wd":"d"},
      {"k":76,"u":0.482,"ud":"u","w":-0.305,"wd":"d"},
      {"k":77,"u":0.483,"ud":"u","w":-0.262,"wd":"d"},
      {"k":78,"u":0.464,"ud":"d","w":-0.235,"wd":"d"},
      {"k":79,"u":0.448,"ud":"d","w":-0.29,"wd":"u"},
      {"k":80,"u":0.447,"ud":"d","w":-0.262,"wd":"d"},
      {"k":81,"u":0.464,"ud":"u","w":-0.153,"wd":"d"},
      {"k":82,"u":0.448,"ud":"d","w":-0.137,"wd":"d"},
      {"k":83,"u":0.393,"ud":"d","w":-0.153,"wd":"u"},
      {"k":84,"u":0.366,"ud":"d","w":-0.055,"wd":"d"},
      {"k":85,"u":0.295,"ud":"d","w":-0.044,"wd":"d"},
      {"k":86,"u":0.284,"ud":"d","w":-0.208,"wd":"u"},
      {"k":87,"u":0.208,"ud":"d","w":-0.388,"wd":"u"},
      {"k":88,"u":0.06,"ud":"d","w":-0.464,"wd":"u"},
      {"k":89,"u":0.12,"ud":"u","w":-0.448,"wd":"d"},
      {"k":90,"u":0.251,"ud":"u","w":-0.447,"wd":"d"},
      {"k":91,"u":0.3,"ud":"u","w":-0.449,"wd":"u"},
      {"k":92,"u":0.317,"ud":"u","w":-0.45,"wd":"u"},
      {"k":93,"u":0.333,"ud":"u","w":-0.415,"wd":"d"},
      {"k":94,"u":0.366,"ud":"u","w":-0.399,"wd":"d"},
      {"k":95,"u":0.399,"ud":"u","w":-0.388,"wd":"d"},
      {"k":96,"u":0.4,"ud":"u","w":-0.383,"wd":"d"},
      {"k":97,"u":0.415,"ud":"u","w":-0.35,"wd":"d"},
      {"k":98,"u":0.416,"ud":"u","w":-0.273,"wd":"d"},
      {"k":99,"u":0.399,"ud":"d","w":-0.208,"wd":"d"},
      {"k":100,"u":0.383,"ud":"d","w":-0.137,"wd":"d"},
      {"k":101,"u":0.333,"ud":"d","w":-0.153,"wd":"u"},
      {"k":102,"u":0.284,"ud":"d","w":-0.219,"wd":"u"},
      {"k":103,"u":0.283,"ud":"d","w":-0.153,"wd":"d"},
      {"k":104,"u":0.317,"ud":"u","w":-0.044,"wd":"d"},
      {"k":105,"u":0.284,"ud":"d","w":-0.027,"wd":"d"},
      {"k":106,"u":0.235,"ud":"d","w":-0.071,"wd":"u"},
      {"k":107,"u":0.191,"ud":"d","w":-0.137,"wd":"u"},
      {"k":108,"u":0.192,"ud":"u","w":-0.16,"wd":"u"},
      {"k":109,"u":0.235,"ud":"u","w":-0.137,"wd":"d"},
      {"k":110,"u":0.268,"ud":"u","w":-0.12,"wd":"d"},
      {"k":111,"u":0.269,"ud":"u","w":-0.121,"wd":"u"},
      {"k":112,"u":0.251,"ud":"d","w":-0.186,"wd":"u"},
      {"k":113,"u":0.252,"ud":"u","w":-0.235,"wd":"u"},
      {"k":114,"u":0.284,"ud":"u","w":-0.219,"wd":"d"},
      {"k":115,"u":0.333,"ud":"u","w":-0.169,"wd":"d"},
      {"k":116,"u":0.339,"ud":"u","w":-0.153,"wd":"d"},
      {"k":117,"u":0.317,"ud":"d","w":-0.158,"wd":"u"},
      {"k":118,"u":0.284,"ud":"d","w":-0.16,"wd":"u"},
      {"k":119,"u":0.268,"ud":"d","w":-0.161,"wd":"u"},
      {"k":120,"u":0.284,"ud":"u","w":-0.169,"wd":"u"},
      {"k":121,"u":0.268,"ud":"d","w":-0.202,"wd":"u"},
      {"k":122,"u":0.284,"ud":"u","w":-0.284,"wd":"u"},
      {"k":123,"u":0.317,"ud":"u","w":-0.3,"wd":"u"},
      {"k":124,"u":0.366,"ud":"u","w":-0.333,"wd":"u"},
      {"k":125,"u":0.399,"ud":"u","w":-0.383,"wd":"u"},
      {"k":126,"u":0.432,"ud":"u","w":-0.384,"wd":"u"},
      {"k":127,"u":0.433,"ud":"u","w":-0.35,"wd":"d"},
      {"k":128,"u":0.481,"ud":"u","w":-0.219,"wd":"d"},
      {"k":129,"u":0.48,"ud":"d","w":-0.208,"wd":"d"},
      {"k":130,"u":0.464,"ud":"d","w":-0.262,"wd":"u"},
      {"k":131,"u":0.399,"ud":"d","w":-0.284,"wd":"u"},
      {"k":132,"u":0.383,"ud":"d","w":-0.251,"wd":"d"},
      {"k":133,"u":0.399,"ud":"u","w":-0.208,"wd":"d"},
      {"k":134,"u":0.432,"ud":"u","w":-0.164,"wd":"d"},
      {"k":135,"u":0.431,"ud":"d","w":-0.087,"wd":"d"},
      {"k":136,"u":0.399,"ud":"d","w":-0.055,"wd":"d"},
      {"k":137,"u":0.366,"ud":"d","w":-0.033,"wd":"d"},
      {"k":138,"u":0.3,"ud":"d","w":-0.005,"wd":"d"},
      {"k":139,"u":0.268,"ud":"d","w":-0.004,"wd":"d"},
      {"k":140,"u":0.235,"ud":"d","w":-0.022,"wd":"u"},
      {"k":141,"u":0.202,"ud":"d"},
      {"k":142,"u":0.153,"ud":"d"},
      {"k":143,"u":0.137,"ud":"d"}
    ]
  },
  "vconcat": [
    {
      "width": 1235,
      "height": 484,
      "layer": [
        {
          "data": {"name": "bars"},
          "mark": {"type": "rule", "color": "black", "strokeWidth": 1, "clip": true},
          "encoding": {
            "x": {"field": "k", "type": "quantitative", "title": null,
              "scale": {"domain": [0, 154.4], "nice": false, "zero": false},
              "axis": {"values": [4,8,12,16,20,24,28,32,36,40,44,48,52,56,60,64,68,72,76,80,84,88,92,96,100,104,108,112,116,120,124,128,132,136,140,144,148,152],
                "tickCount": 100, "labels": false, "ticks": false, "grid": true}},
            "y": {"field": "l", "type": "quantitative", "title": null,
              "scale": {"domain": [70.585, 74.308], "nice": false, "zero": false},
              "axis": {"orient": "right", "values": [70.85,71.1,71.35,71.6,71.85,72.1,72.35,72.6,72.85,73.1,73.35,73.6,73.85,74.1],
                "tickCount": 100, "format": ".2f", "tickSize": 4, "labelPadding": 2, "grid": true, "labelOverlap": false}},
            "y2": {"field": "h"}
          }
        },
        {
          "data": {"name": "bars"},
          "mark": {"type": "bar", "width": 4, "stroke": "black", "strokeWidth": 1, "clip": true},
          "encoding": {
            "x": {"field": "k", "type": "quantitative", "title": null},
            "y": {"field": "o", "type": "quantitative", "title": null},
            "y2": {"field": "c"},
            "fill": {"condition": {"test": "datum.c >= datum.o", "value": "white"}, "value": "black"}
          }
        },
        {
          "data": {"name": "ally"},
          "transform": [
            {"fold": ["jaw", "teeth", "lips"], "as": ["line", "v"]},
            {"filter": "isValid(datum.v)"}
          ],
          "mark": {"type": "line", "strokeWidth": 2, "interpolate": "monotone", "clip": true},
          "encoding": {
            "x": {"field": "k", "type": "quantitative", "title": null},
            "y": {"field": "v", "type": "quantitative", "title": null},
            "color": {"field": "line", "type": "nominal",
              "scale": {"domain": ["jaw", "teeth", "lips"], "range": ["#1450dc", "#ff0000", "#32c832"]},
              "legend": null}
          }
        },
        {
          "data": {"name": "fr"},
          "transform": [{"filter": "datum.t == 'up'"}],
          "mark": {"type": "point", "shape": "M0,-1L0.85,0.95L0,0.45L-0.85,0.95Z", "size": 100, "filled": true, "color": "#34344a", "opacity": 1, "yOffset": -8},
          "encoding": {
            "x": {"field": "k", "type": "quantitative", "title": null},
            "y": {"field": "p", "type": "quantitative", "title": null}
          }
        },
        {
          "data": {"name": "fr"},
          "transform": [{"filter": "datum.t == 'dn'"}],
          "mark": {"type": "point", "shape": "M0,1L0.85,-0.95L0,-0.45L-0.85,-0.95Z", "size": 100, "filled": true, "color": "#34344a", "opacity": 1, "yOffset": 7},
          "encoding": {
            "x": {"field": "k", "type": "quantitative", "title": null},
            "y": {"field": "p", "type": "quantitative", "title": null}
          }
        },
        {
          "data": {"values": [{}]},
          "mark": {"type": "rule", "color": "#ff0000", "strokeWidth": 1},
          "encoding": {"y": {"datum": 71.27, "type": "quantitative"}}
        },
        {
          "data": {"values": [{}]},
          "mark": {"type": "point", "shape": "M-1,-0.4H1V0.4H-1Z", "size": 784, "filled": true, "color": "#e00000", "opacity": 1, "xOffset": 17},
          "encoding": {
            "x": {"datum": 154.4, "type": "quantitative"},
            "y": {"datum": 71.27, "type": "quantitative"}
          }
        },
        {
          "data": {"values": [{}]},
          "mark": {"type": "text", "text": "71.27", "color": "white", "fontSize": 10, "font": "Liberation Sans", "align": "left", "baseline": "middle", "dx": 5},
          "encoding": {
            "x": {"datum": 154.4, "type": "quantitative"},
            "y": {"datum": 71.27, "type": "quantitative"}
          }
        }
      ]
    },
    {
      "width": 1235,
      "height": 101,
      "layer": [
        {
          "data": {"name": "bars"},
          "mark": {"type": "bar", "width": 4},
          "encoding": {
            "x": {"field": "k", "type": "quantitative", "title": null,
              "scale": {"domain": [0, 154.4], "nice": false, "zero": false},
              "axis": {"values": [4,8,12,16,20,24,28,32,36,40,44,48,52,56,60,64,68,72,76,80,84,88,92,96,100,104,108,112,116,120,124,128,132,136,140,144,148,152],
                "tickCount": 100, "labels": false, "ticks": false, "grid": true}},
            "y": {"field": "ao", "type": "quantitative", "title": null,
              "scale": {"domain": [-1.32, 1.5], "nice": false},
              "axis": {"orient": "right", "values": [-1.215, 0, 1.368], "tickCount": 100,
                "labelExpr": "datum.value < 0 ? '-' + format(-datum.value, '.3f') : format(datum.value, '.3f')",
                "tickSize": 4, "labelPadding": 2, "grid": true, "labelOverlap": false,
                "gridOpacity": {"condition": {"test": "datum.value == 0", "value": 1}, "value": 0}}},
            "y2": {"datum": 0},
            "color": {"condition": {"test": "datum.aod == 'u'", "value": "#008000"}, "value": "#ff0000"}
          }
        },
        {
          "data": {"values": [{}]},
          "mark": {"type": "text", "text": "AO -0.158", "fontSize": 10, "font": "Liberation Sans", "color": "black", "align": "left", "baseline": "top", "dx": 4, "dy": 3},
          "encoding": {
            "x": {"datum": 0, "type": "quantitative"},
            "y": {"datum": 1.5, "type": "quantitative"}
          }
        }
      ]
    },
    {
      "width": 1235,
      "height": 101,
      "layer": [
        {
          "data": {"name": "bars"},
          "mark": {"type": "bar", "width": 4},
          "encoding": {
            "x": {"field": "k", "type": "quantitative", "title": null,
              "scale": {"domain": [0, 154.4], "nice": false, "zero": false},
              "axis": {"values": [4,8,12,16,20,24,28,32,36,40,44,48,52,56,60,64,68,72,76,80,84,88,92,96,100,104,108,112,116,120,124,128,132,136,140,144,148,152],
                "tickCount": 100, "labels": false, "ticks": false, "grid": true}},
            "y": {"field": "ac", "type": "quantitative", "title": null,
              "scale": {"domain": [-0.664, 0.384], "nice": false},
              "axis": {"orient": "right", "values": [-0.5924, 0, 0.3363], "tickCount": 100,
                "labelExpr": "datum.value < 0 ? '-' + format(-datum.value, '.4f') : format(datum.value, '.4f')",
                "tickSize": 4, "labelPadding": 2, "grid": true, "labelOverlap": false,
                "gridOpacity": {"condition": {"test": "datum.value == 0", "value": 1}, "value": 0}}},
            "y2": {"datum": 0},
            "color": {"condition": {"test": "datum.acd == 'u'", "value": "#008000"}, "value": "#ff0000"}
          }
        },
        {
          "data": {"values": [{}]},
          "mark": {"type": "text", "text": "AC 0.1344", "fontSize": 10, "font": "Liberation Sans", "color": "black", "align": "left", "baseline": "top", "dx": 4, "dy": 3},
          "encoding": {
            "x": {"datum": 0, "type": "quantitative"},
            "y": {"datum": 0.384, "type": "quantitative"}
          }
        }
      ]
    },
    {
      "width": 1235,
      "height": 85,
      "layer": [
        {
          "data": {"name": "gator"},
          "mark": {"type": "bar", "width": 4},
          "encoding": {
            "x": {"field": "k", "type": "quantitative", "title": null,
              "scale": {"domain": [0, 154.4], "nice": false, "zero": false},
              "axis": {"values": [0,4,8,12,16,20,24,28,32,36,40,44,48,52,56,60,64,68,72,76,80,84,88,92,96,100,104,108,112,116,120,124,128,132,136,140,144,148,152],
                "tickCount": 100,
                "labelExpr": "datum.value % 8 == 0 && datum.value <= 136 ? ['28 Nov 2024','29 Nov 06:00','29 Nov 14:00','2 Dec 02:00','2 Dec 10:00','2 Dec 18:00','3 Dec 05:00','3 Dec 13:00','3 Dec 21:00','4 Dec 08:00','4 Dec 16:00','5 Dec 03:00','5 Dec 11:00','5 Dec 19:00','6 Dec 06:00','6 Dec 14:00','6 Dec 22:00','9 Dec 07:00'][datum.value / 8] : ''",
                "labelAlign": "left", "labelBaseline": "top", "labelPadding": 2, "labelOffset": 1,
                "labelOverlap": false, "labelFlush": false, "tickSize": 4,
                "tickOpacity": {"condition": {"test": "datum.value % 8 == 0 && datum.value <= 136", "value": 1}, "value": 0},
                "grid": true,
                "gridOpacity": {"condition": {"test": "datum.value == 0", "value": 0}, "value": 1}}},
            "y": {"field": "u", "type": "quantitative", "title": null,
              "scale": {"domain": [-0.69, 0.69], "nice": false},
              "axis": {"orient": "right", "values": [-0.596, 0, 0.589], "tickCount": 100,
                "labelExpr": "datum.value < 0 ? '-' + format(-datum.value, '.3f') : format(datum.value, '.3f')",
                "tickSize": 4, "labelPadding": 2, "grid": true, "labelOverlap": false,
                "gridOpacity": {"condition": {"test": "datum.value == 0", "value": 1}, "value": 0}}},
            "y2": {"datum": 0},
            "color": {"condition": {"test": "datum.ud == 'u'", "value": "#008000"}, "value": "#ff0000"}
          }
        },
        {
          "data": {"name": "gator"},
          "transform": [{"filter": "isValid(datum.w)"}],
          "mark": {"type": "bar", "width": 4},
          "encoding": {
            "x": {"field": "k", "type": "quantitative", "title": null},
            "y": {"field": "w", "type": "quantitative", "title": null},
            "y2": {"datum": 0},
            "color": {"condition": {"test": "datum.wd == 'u'", "value": "#008000"}, "value": "#ff0000"}
          }
        },
        {
          "data": {"values": [{}]},
          "mark": {"type": "text", "text": "Gator(13,8,5) 0.108 0.000", "fontSize": 10, "font": "Liberation Sans", "color": "black", "align": "left", "baseline": "top", "dx": 4, "dy": 3},
          "encoding": {
            "x": {"datum": 0, "type": "quantitative"},
            "y": {"datum": 0.69, "type": "quantitative"}
          }
        }
      ]
    }
  ]
}
